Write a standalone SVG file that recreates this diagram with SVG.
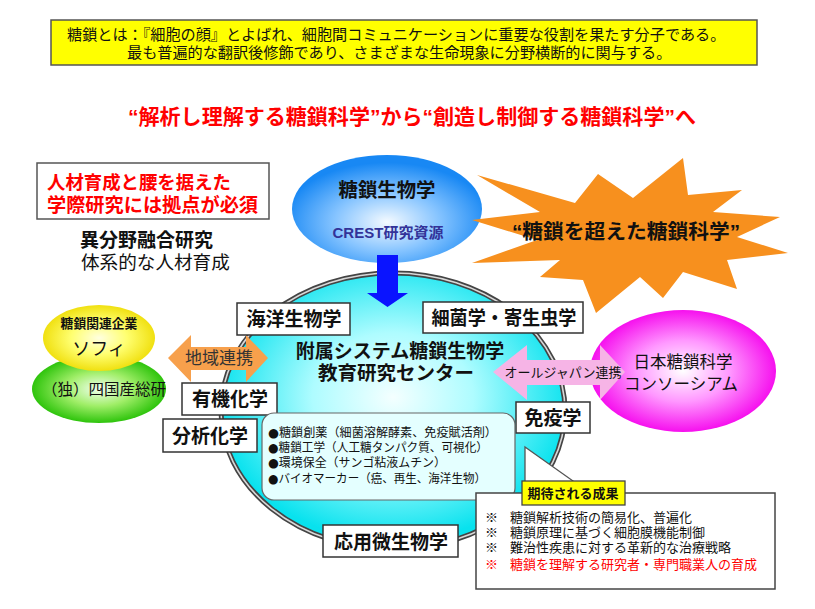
<svg xmlns="http://www.w3.org/2000/svg" width="815" height="609" viewBox="0 0 815 609">
<style>
text{font-family:"Liberation Sans","Noto Sans CJK JP",sans-serif;fill:#111}
.b{font-weight:bold}
.lbl{fill:#fff;stroke:#333;stroke-width:1.5}
.lt{font-size:19px;font-weight:bold;text-anchor:middle}
.red{fill:#ff0000}
.li{font-size:12px}
.dot{font-family:"DejaVu Sans",sans-serif;font-size:12.5px}
.bl{font-size:13px}
</style>
<defs>
<radialGradient id="gBlue" cx="50%" cy="62%" r="55%">
<stop offset="0" stop-color="#f4faff"/><stop offset="0.5" stop-color="#86c4ff"/><stop offset="1" stop-color="#1888f4"/>
</radialGradient>
<radialGradient id="gCyan" cx="50%" cy="45%" r="52%">
<stop offset="0" stop-color="#f4ffff"/><stop offset="0.45" stop-color="#aefcff"/><stop offset="1" stop-color="#08e2ee"/>
</radialGradient>
<radialGradient id="gYel" cx="50%" cy="50%" r="50%">
<stop offset="0" stop-color="#ffffe0"/><stop offset="0.5" stop-color="#ffff70"/><stop offset="1" stop-color="#f0e010"/>
</radialGradient>
<radialGradient id="gGrn" cx="50%" cy="50%" r="50%">
<stop offset="0" stop-color="#f0fff0"/><stop offset="0.5" stop-color="#a0ee68"/><stop offset="1" stop-color="#2ec40c"/>
</radialGradient>
<radialGradient id="gMag" cx="50%" cy="50%" r="50%">
<stop offset="0" stop-color="#ffffff"/><stop offset="0.5" stop-color="#ff98ff"/><stop offset="1" stop-color="#f610ee"/>
</radialGradient>
</defs>
<rect width="815" height="609" fill="#fff"/>

<g id="intro">
<rect x="51" y="20" width="706" height="45" fill="#ffff00" stroke="#555" stroke-width="1.5"/>
<text x="67" y="40" font-size="15.15">糖鎖とは：『細胞の顔』とよばれ、細胞間コミュニケーションに重要な役割を果たす分子である。</text>
<text x="127" y="58" font-size="15.15">最も普遍的な翻訳後修飾であり、さまざまな生命現象に分野横断的に関与する。</text>
</g>

<g id="title">
<text x="128" y="124" font-size="21" class="b red" textLength="568" lengthAdjust="spacingAndGlyphs">“解析し理解する糖鎖科学”から“創造し制御する糖鎖科学”へ</text>
</g>

<g id="need">
<rect x="37" y="163" width="232" height="56" fill="#fff" stroke="#555" stroke-width="1.5"/>
<text x="47" y="189" font-size="18.4" class="b red">人材育成と腰を据えた</text>
<text x="47" y="212" font-size="19.2" class="b red">学際研究には拠点が必須</text>
</g>
<g id="fusion">
<text x="80" y="247" font-size="19" class="b">異分野融合研究</text>
<text x="81" y="269" font-size="18.6">体系的な人材育成</text>
</g>

<g id="center">
<ellipse cx="393" cy="411" rx="172" ry="138" fill="url(#gCyan)" stroke="#444" stroke-width="5"/>
<ellipse cx="393" cy="411" rx="172" ry="138" fill="none" stroke="#d8d8d8" stroke-width="1.6"/>
<text x="400" y="358" font-size="19" class="b" text-anchor="middle">附属システム糖鎖生物学</text>
<text x="396" y="380" font-size="19.5" class="b" text-anchor="middle">教育研究センター</text>
</g>

<g id="glycobio">
<ellipse cx="387" cy="209" rx="95" ry="54" fill="url(#gBlue)"/>
<text x="387" y="197" font-size="19.4" class="b" text-anchor="middle">糖鎖生物学</text>
<text x="388" y="238" font-size="15" class="b" text-anchor="middle" style="fill:#333399" textLength="111" lengthAdjust="spacingAndGlyphs">CREST研究資源</text>
</g>

<g id="burst">
<polygon points="477,175 575,203 598,174 633,198 683,158 688,195 742,190 713,212 780,217 737,237 788,253 727,260 737,289 683,272 663,298 640,277 596,313 583,280 540,277 560,260 472,263 537,240 472,220 540,212" fill="#f7901e"/>
<text x="626" y="239" font-size="20" class="b" text-anchor="middle" textLength="228" lengthAdjust="spacingAndGlyphs">“糖鎖を超えた糖鎖科学”</text>
</g>

<g id="sofi">
<ellipse cx="99" cy="389" rx="67" ry="34" fill="url(#gGrn)"/>
<ellipse cx="99" cy="338" rx="56" ry="33" fill="url(#gYel)"/>
<text x="99" y="328" font-size="12.8" class="b" text-anchor="middle">糖鎖関連企業</text>
<text x="99" y="355" font-size="18" text-anchor="middle">ソフィ</text>
<text x="104" y="395" font-size="15.5" text-anchor="middle">（独）四国産総研</text>
</g>

<g id="consortium">
<ellipse cx="683" cy="371" rx="93" ry="61" fill="url(#gMag)"/>
<text x="683" y="368" font-size="16.5" text-anchor="middle">日本糖鎖科学</text>
<text x="681" y="390" font-size="16.5" text-anchor="middle">コンソーシアム</text>
</g>

<g id="connectors">
<polygon points="377,255 398,255 398,293 408,293 387.5,307 367,293 377,293" fill="#0a14ff"/>
<polygon points="168,358 191,335 191,347 246,347 246,335 268,358 246,382 246,370 191,370 191,382" fill="#f7a04c"/>
<text x="219" y="364" font-size="17" text-anchor="middle" style="fill:#333">地域連携</text>
<polygon points="493,372 527,345 527,360 600,360 600,345 625,372 600,400 600,385 527,385 527,400" fill="#f6b4e6"/>
<text x="563" y="377" font-size="13" text-anchor="middle">オールジャパン連携</text>
</g>

<g id="marine"><rect x="237" y="303" width="113" height="32" class="lbl"/><text x="294" y="326" class="lt">海洋生物学</text></g>
<g id="bacteria"><rect x="423" y="302" width="160" height="31" class="lbl"/><text x="504" y="325" class="lt" textLength="145" lengthAdjust="spacingAndGlyphs">細菌学・寄生虫学</text></g>
<g id="organic"><rect x="182" y="383" width="95" height="32" class="lbl"/><text x="230" y="406" class="lt">有機化学</text></g>
<g id="analytical"><rect x="163" y="419" width="94" height="33" class="lbl"/><text x="210" y="443" class="lt">分析化学</text></g>
<g id="immuno"><rect x="516" y="402" width="74" height="31" class="lbl"/><text x="553" y="425" class="lt">免疫学</text></g>
<g id="microbio"><rect x="323" y="525" width="135" height="32" class="lbl"/><text x="391" y="549" class="lt">応用微生物学</text></g>

<g id="themes">
<rect x="262" y="413" width="253" height="87" rx="12" fill="#e4ffff" stroke="#666" stroke-width="1.2"/>
<text x="268" y="437" class="li" textLength="229" lengthAdjust="spacingAndGlyphs"><tspan class="dot">●</tspan>糖鎖創薬（細菌溶解酵素、免疫賦活剤）</text>
<text x="268" y="452" class="li" textLength="220" lengthAdjust="spacingAndGlyphs"><tspan class="dot">●</tspan>糖鎖工学（人工糖タンパク質、可視化）</text>
<text x="268" y="467" class="li" textLength="178" lengthAdjust="spacingAndGlyphs"><tspan class="dot">●</tspan>環境保全（サンゴ粘液ムチン）</text>
<text x="268" y="483" class="li" textLength="218" lengthAdjust="spacingAndGlyphs"><tspan class="dot">●</tspan>バイオマーカー（癌、再生、海洋生物）</text>
</g>

<g id="results">
<polygon points="525,447 525,493 590,493" fill="#fff" stroke="#555" stroke-width="1.3"/>
<rect x="476" y="493" width="299" height="96" fill="#fff" stroke="#444" stroke-width="1.5"/>
<rect x="525" y="488" width="50" height="8" fill="#fff"/>
<rect x="522" y="481" width="103" height="24" fill="#ffff00" stroke="#444" stroke-width="1.3"/>
<text x="573" y="498" font-size="13" class="b" text-anchor="middle">期待される成果</text>
<text x="485" y="522" class="bl">※</text><text x="510" y="522" class="bl">糖鎖解析技術の簡易化、普遍化</text>
<text x="485" y="537" class="bl">※</text><text x="510" y="537" class="bl">糖鎖原理に基づく細胞膜機能制御</text>
<text x="485" y="552" class="bl">※</text><text x="510" y="552" class="bl">難治性疾患に対する革新的な治療戦略</text>
<text x="485" y="569" class="bl red">※</text><text x="510" y="569" class="bl red">糖鎖を理解する研究者・専門職業人の育成</text>
</g>
</svg>
